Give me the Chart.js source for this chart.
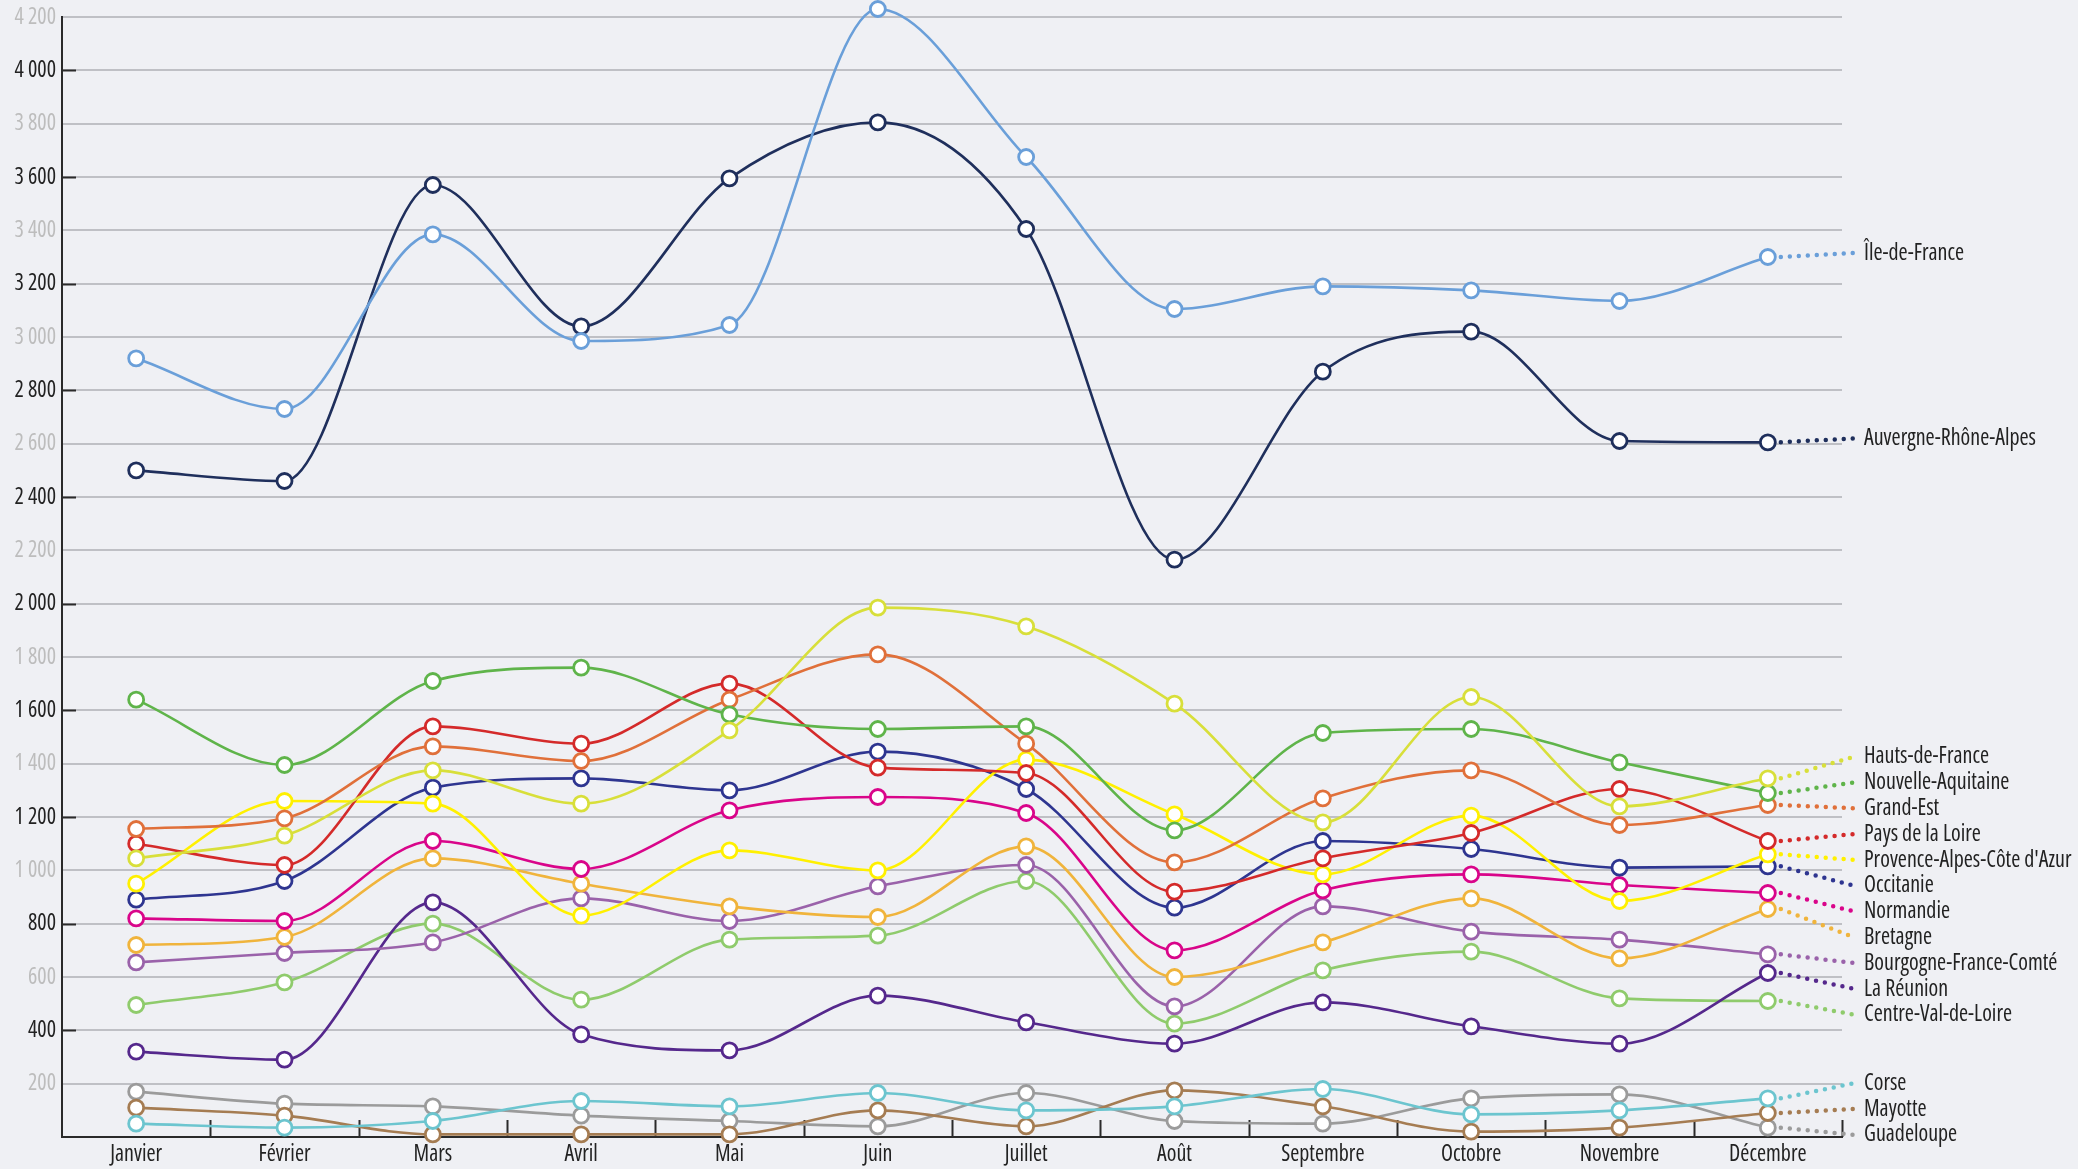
<!DOCTYPE html>
<html>
<head>
<meta charset="utf-8">
<script src="https://cdn.jsdelivr.net/npm/chart.js@4.4.1/dist/chart.umd.min.js"></script>
<style>
  html, body { margin: 0; padding: 0; background: #eff0f4; }
  #wrap { width: 2078px; height: 1169px; }
</style>
</head>
<body>
<div id="wrap"><canvas id="chart"></canvas></div>
<script>
// --- data ---
const months = ['Janvier', 'Février', 'Mars', 'Avril', 'Mai', 'Juin', 'Juillet', 'Août', 'Septembre', 'Octobre', 'Novembre', 'Décembre'];

const ileDeFrance      = [2920, 2730, 3385, 2985, 3045, 4230, 3675, 3105, 3190, 3175, 3135, 3300];
const auvergneRhone    = [2500, 2460, 3570, 3040, 3595, 3805, 3405, 2165, 2870, 3020, 2610, 2605];
const hautsDeFrance    = [1045, 1130, 1375, 1250, 1525, 1985, 1915, 1625, 1180, 1650, 1240, 1345];
const nouvelleAquit    = [1640, 1395, 1710, 1760, 1585, 1530, 1540, 1150, 1515, 1530, 1405, 1290];
const grandEst         = [1155, 1195, 1465, 1410, 1640, 1810, 1475, 1030, 1270, 1375, 1170, 1245];
const paysDeLaLoire    = [1100, 1020, 1540, 1475, 1700, 1385, 1365, 920, 1045, 1140, 1305, 1110];
const paca             = [950, 1260, 1250, 830, 1075, 1000, 1415, 1210, 985, 1205, 885, 1060];
const occitanie        = [890, 960, 1310, 1345, 1300, 1445, 1305, 860, 1110, 1080, 1010, 1015];
const normandie        = [820, 810, 1110, 1005, 1225, 1275, 1215, 700, 925, 985, 945, 915];
const bretagne         = [720, 750, 1045, 950, 865, 825, 1090, 600, 730, 895, 670, 855];
const bourgogne        = [655, 690, 730, 895, 810, 940, 1020, 490, 865, 770, 740, 685];
const laReunion        = [320, 290, 880, 385, 325, 530, 430, 350, 505, 415, 350, 615];
const centreVal        = [495, 580, 800, 515, 740, 755, 960, 425, 625, 695, 520, 510];
const corse            = [50, 35, 60, 135, 115, 165, 100, 115, 180, 85, 100, 145];
const mayotte          = [110, 80, 10, 10, 10, 100, 40, 175, 115, 20, 35, 90];
const guadeloupe       = [170, 125, 115, 80, 60, 40, 165, 60, 50, 145, 160, 35];

const regionNames = ['Île-de-France', 'Auvergne-Rhône-Alpes', 'Hauts-de-France', 'Nouvelle-Aquitaine', 'Grand-Est',
  'Pays de la Loire', "Provence-Alpes-Côte d'Azur", 'Occitanie', 'Normandie', 'Bretagne',
  'Bourgogne-France-Comté', 'La Réunion', 'Centre-Val-de-Loire', 'Corse', 'Mayotte', 'Guadeloupe'];
const regionValues = [ileDeFrance, auvergneRhone, hautsDeFrance, nouvelleAquit, grandEst, paysDeLaLoire, paca,
  occitanie, normandie, bretagne, bourgogne, laReunion, centreVal, corse, mayotte, guadeloupe];
const regionColors = ['#6a9fd9', '#1f2f5c', '#d8df3a', '#5fb44a', '#e0703a', '#d42a2a', '#fff000', '#2e3590',
  '#d9058a', '#f0b43c', '#9a62aa', '#55288c', '#8fcb6c', '#6cc5cf', '#a57c52', '#9b9b9b'];

const yMin = 0, yMax = 4200, yStep = 200;

// --- condensed text helper ---
// the reference uses a condensed face; pick the narrowest one installed and squeeze the rest
const FONT_SIZE = 23.5;
let textFont = null;

function pickFont(ctx) {
  if (textFont) return textFont;
  const sample = 'Auvergne-Rhône-Alpes';
  const target = 172; // width of that label in the picture
  const cands = [
    { family: "'Liberation Sans Narrow'", stretch: 'normal' },
    { family: "'DejaVu Sans Condensed'", stretch: 'normal' },
    { family: "'Noto Sans'", stretch: 'condensed' },
    { family: "'Open Sans'", stretch: 'condensed' },
    { family: "'Roboto'", stretch: 'condensed' },
    { family: "'Noto Sans'", stretch: 'normal' }
  ];
  ctx.save();
  ctx.font = FONT_SIZE + 'px monospace';
  ctx.fontStretch = 'normal';
  const mono = ctx.measureText(sample).width;
  let best = null;
  for (const c of cands) {
    ctx.font = FONT_SIZE + 'px ' + c.family + ', monospace';
    ctx.fontStretch = c.stretch;
    const w = ctx.measureText(sample).width;
    if (Math.abs(w - mono) < 0.5) continue; // not installed
    if (!best || w < best.w - 1) best = { family: c.family, stretch: c.stretch, w: w };
  }
  ctx.restore();
  if (!best) best = { family: 'sans-serif', stretch: 'normal', w: target };
  best.sx = Math.min(1, target / best.w);
  textFont = best;
  return best;
}

function drawText(ctx, text, x, y, align, color) {
  const f = pickFont(ctx);
  ctx.save();
  ctx.font = FONT_SIZE + 'px ' + f.family + ', sans-serif';
  ctx.fontStretch = f.stretch;
  ctx.fillStyle = color;
  ctx.textAlign = align;
  ctx.textBaseline = 'middle';
  ctx.translate(x, y);
  ctx.scale(f.sx, 1);
  ctx.fillText(text, 0, 0);
  ctx.restore();
}

function fmt(v) {
  return String(v).replace(/\B(?=(\d{3})+(?!\d))/g, ' ');
}

// spread end labels so they do not overlap, groups centred on their value range
function layoutLabels(chart) {
  const x = chart.scales.x, y = chart.scales.y;
  const gap = 25.8;
  const last = months.length - 1;
  const items = regionNames.map((name, i) => ({
    text: name,
    color: regionColors[i],
    x0: x.getPixelForValue(last),
    y0: y.getPixelForValue(regionValues[i][last])
  })).sort((a, b) => a.y0 - b.y0);

  let groups = items.map(it => ({ members: [it] }));
  const place = g => {
    const lo = g.members[0].y0, hi = g.members[g.members.length - 1].y0;
    g.top = (lo + hi) / 2 - (g.members.length - 1) * gap / 2 - 4;
    g.bottom = g.top + (g.members.length - 1) * gap;
  };
  groups.forEach(place);
  let merged = true;
  while (merged) {
    merged = false;
    for (let i = 0; i < groups.length - 1; i++) {
      if (groups[i].bottom + gap > groups[i + 1].top) {
        groups[i].members = groups[i].members.concat(groups[i + 1].members);
        place(groups[i]);
        groups.splice(i + 1, 1);
        merged = true;
        break;
      }
    }
  }
  groups.forEach(g => g.members.forEach((m, k) => { m.y = g.top + k * gap; }));
  return items;
}

// --- plugin: inner ticks, dotted connectors, axis texts and end labels ---
const decorations = {
  id: 'decorations',
  beforeDatasetsDraw(chart) {
    const ctx = chart.ctx;
    const x = chart.scales.x, y = chart.scales.y;
    const area = chart.chartArea;
    ctx.save();
    ctx.strokeStyle = '#2a2a2a';
    ctx.lineWidth = 2;
    // y ticks pointing inside
    for (let v = 400; v < yMax; v += 400) {
      const py = Math.round(y.getPixelForValue(v)) + 0.5;
      ctx.beginPath(); ctx.moveTo(area.left, py); ctx.lineTo(area.left + 14, py); ctx.stroke();
    }
    // x ticks at category boundaries pointing up
    for (let i = 1; i <= months.length; i++) {
      const px = Math.round(i < months.length
        ? (x.getPixelForValue(i - 1) + x.getPixelForValue(i)) / 2
        : area.right) + 0.5;
      ctx.beginPath(); ctx.moveTo(px, area.bottom); ctx.lineTo(px, area.bottom - 17); ctx.stroke();
    }
    // dotted connectors
    layoutLabels(chart).forEach(l => {
      ctx.strokeStyle = l.color;
      ctx.lineWidth = 4.5;
      ctx.lineCap = 'round';
      ctx.setLineDash([0, 9]);
      ctx.beginPath();
      ctx.moveTo(l.x0 + 13, l.y0);
      ctx.lineTo(area.right + 12, l.y);
      ctx.stroke();
    });
    ctx.restore();
  },
  afterDraw(chart) {
    const ctx = chart.ctx;
    const x = chart.scales.x, y = chart.scales.y;
    const area = chart.chartArea;
    for (let v = yStep; v <= yMax; v += yStep) {
      drawText(ctx, fmt(v), area.left - 6, y.getPixelForValue(v), 'right', v % 400 === 0 ? '#222' : '#bdbdbd');
    }
    months.forEach((m, i) => drawText(ctx, m, x.getPixelForValue(i), area.bottom + 17, 'center', '#222'));
    layoutLabels(chart).forEach(l => drawText(ctx, l.text, area.right + 22, l.y, 'left', '#222'));
  }
};

const datasets = regionNames.map((name, i) => ({
  label: name,
  data: regionValues[i],
  borderColor: regionColors[i],
  backgroundColor: regionColors[i],
  borderWidth: 2.6,
  cubicInterpolationMode: 'monotone',
  clip: false,
  pointRadius: 7.5,
  pointBorderWidth: 2.8,
  pointBackgroundColor: '#ffffff',
  pointBorderColor: regionColors[i],
  fill: false
}));

new Chart(document.getElementById('chart'), {
  type: 'line',
  data: { labels: months, datasets: datasets },
  plugins: [decorations],
  options: {
    responsive: true,
    maintainAspectRatio: false,
    animation: false,
    layout: { padding: { top: 17, right: 236, left: 0, bottom: 0 } },
    plugins: { legend: { display: false }, tooltip: { enabled: false } },
    scales: {
      x: {
        offset: true,
        grid: { display: false },
        border: { display: true, color: '#2a2a2a', width: 2 },
        ticks: { display: false },
        afterFit(scale) { scale.height = 32; }
      },
      y: {
        min: yMin, max: yMax,
        grid: {
          color: c => c.tick.value === 0 ? 'rgba(0,0,0,0)' : '#bfc0c5',
          lineWidth: 2,
          drawTicks: false
        },
        border: { display: true, color: '#2a2a2a', width: 2 },
        ticks: { stepSize: yStep, display: false },
        afterFit(scale) { scale.width = 62; }
      }
    }
  }
});
</script>
</body>
</html>
